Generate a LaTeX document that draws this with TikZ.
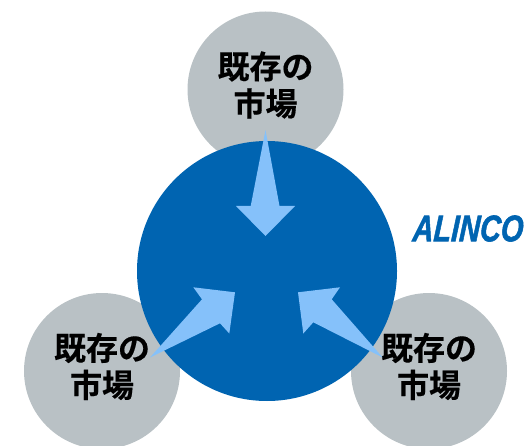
\documentclass[tikz,border=0pt]{standalone}
\usepackage{fontspec}
\newfontfamily\marketfont{Noto Sans CJK JP Bold}[FakeBold=0.4]
\newfontfamily\logofontb{Liberation Sans Bold Italic}[FakeBold=1.6,FakeSlant=0.08]
\definecolor{marketgrey}{HTML}{B9C1C5}
\definecolor{coreblue}{HTML}{0064B1}
\definecolor{arrowblue}{HTML}{85C1FA}
\tikzset{
  market/.style={circle,fill=marketgrey,minimum size=156pt,inner sep=0pt},
  marketlabel/.style={align=center,inner sep=0pt,font=\fontsize{32pt}{37pt}\marketfont,text=black},
  core/.style={circle,fill=coreblue,minimum size=260pt,inner sep=0pt},
  inarrow/.style={fill=arrowblue,draw=none},
  logo/.style={font=\fontsize{37pt}{37pt}\logofontb,text=coreblue,xscale=.78,inner sep=0pt}
}
\begin{document}
\begin{tikzpicture}[x=1pt,y=-1pt]
\useasboundingbox (0,0) rectangle (524,446);
\node[market] (top) at (265.5,89.5) {};
\node[market] (left) at (102,371) {};
\node[market] (right) at (429,371) {};
\node[marketlabel] (toplabel) at (265.5,85) {既存の\\市場};
\node[marketlabel] (leftlabel) at (102,366.5) {既存の\\市場};
\node[marketlabel] (rightlabel) at (429,366.5) {既存の\\市場};
\node[core] (centre) at (267,271) {};
\fill[inarrow] (265.5,130) -- (279.5,206) -- (295,206) -- (265.5,236) -- (236,206) -- (250.7,206) -- cycle;
\fill[inarrow] (150,357.5) -- (202,299.3) -- (193.3,287.3) -- (235,292.3) -- (229.3,333.5) -- (220,323.3) -- cycle;
\fill[inarrow] (382.7,357.5) -- (331.7,299.3) -- (340,287.3) -- (298,292.3) -- (303.3,333.5) -- (313.3,322.3) -- cycle;
\node[logo] (brand) at (467.5,228.5) {ALINCO};
\end{tikzpicture}
\end{document}
